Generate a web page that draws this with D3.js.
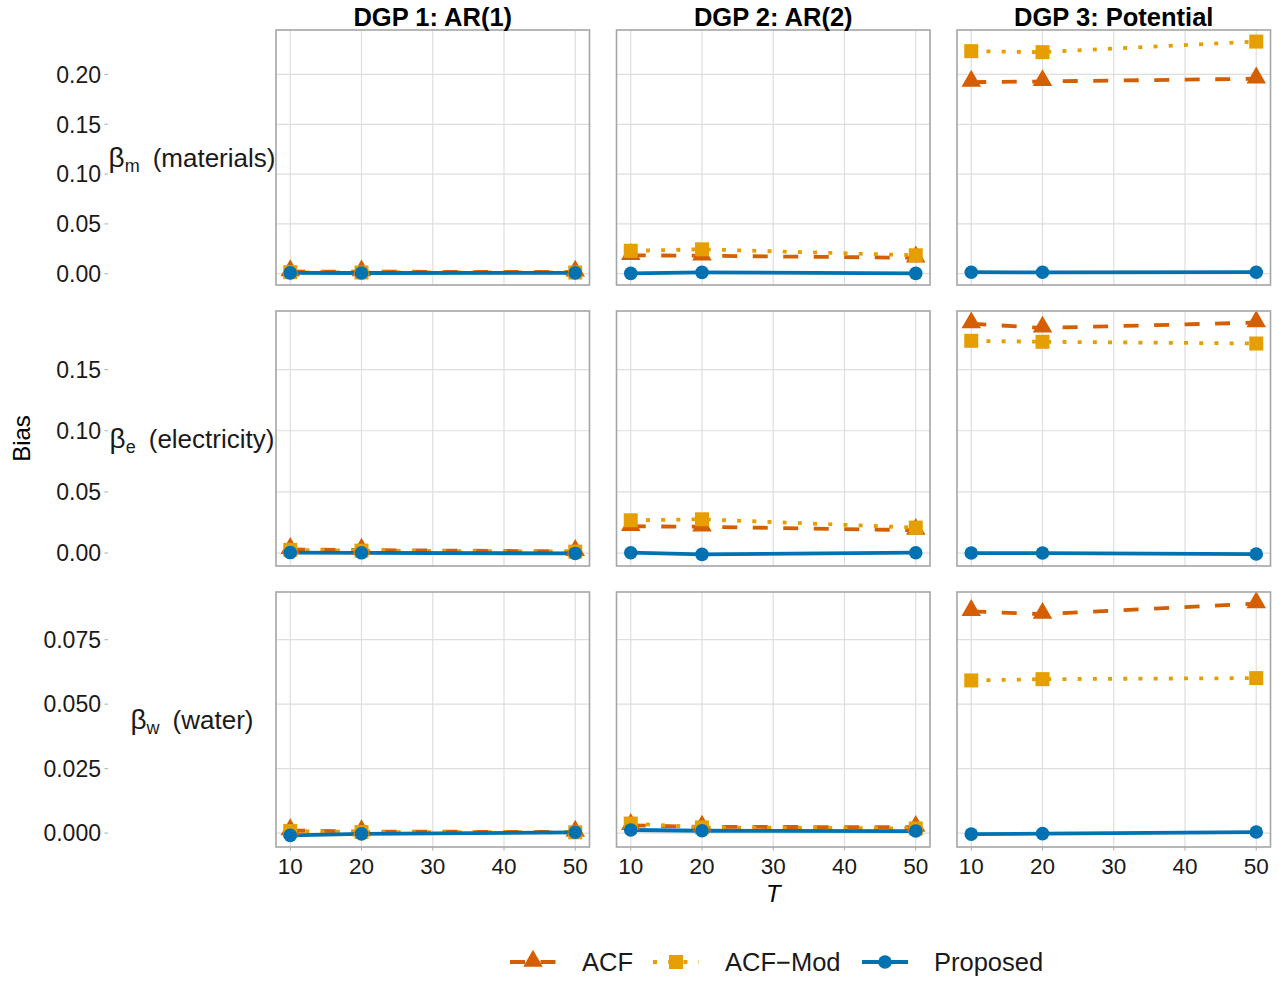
<!DOCTYPE html>
<html lang="en">
<head>
    <meta charset="UTF-8">
    <title>bias by T</title>
    <script type="text/javascript" src="https://d3js.org/d3.v7.min.js"></script>
    <style>
        body { margin: 0; background: #fff; }
        text { font-family: "Liberation Sans", Arial, sans-serif; }
    </style>
</head>
<body>
<svg class="bias"></svg>

<script type="text/javascript">

    const width = 1279;
    const height = 981;

    // data
    const tVals = [10, 20, 50];
    const xTicks = [10, 20, 30, 40, 50];
    const dgpLabels = ["DGP 1: AR(1)", "DGP 2: AR(2)", "DGP 3: Potential"];
    const paramSubs = ["m", "e", "w"];
    const paramNames = ["(materials)", "(electricity)", "(water)"];
    const seriesNames = ["ACF", "ACF\u2212Mod", "Proposed"];

    // one inner array per DGP, values at T = 10, 20, 50
    const acf_m = [[0.0022, 0.0020, 0.0018], [0.0185, 0.0180, 0.0160], [0.1923, 0.1930, 0.1957]];
    const acfMod_m = [[0.0015, 0.0012, 0.0012], [0.0230, 0.0245, 0.0185], [0.2234, 0.2224, 0.2330]];
    const prop_m = [[0.0008, 0.0007, 0.0008], [0.0003, 0.0013, 0.0003], [0.0015, 0.0014, 0.0015]];

    const acf_e = [[0.0030, 0.0024, 0.0014], [0.0219, 0.0215, 0.0187], [0.1875, 0.1840, 0.1884]];
    const acfMod_e = [[0.0026, 0.0020, 0.0012], [0.0268, 0.0276, 0.0208], [0.1735, 0.1727, 0.1713]];
    const prop_e = [[0.0004, 0.0002, -0.0003], [0.0003, -0.0011, 0.0003], [0.0000, 0.0000, -0.0008]];

    const acf_w = [[0.0010, 0.0006, 0.0004], [0.0030, 0.0024, 0.0023], [0.0860, 0.0849, 0.0890]];
    const acfMod_w = [[0.0008, 0.0004, 0.0003], [0.0037, 0.0022, 0.0018], [0.0592, 0.0597, 0.0601]];
    const prop_w = [[-0.0009, -0.0003, 0.0003], [0.0012, 0.0009, 0.0008], [-0.0004, -0.0002, 0.0004]];

    const yTicks_m = [0, 0.05, 0.10, 0.15, 0.20];
    const yTicks_e = [0, 0.05, 0.10, 0.15];
    const yTicks_w = [0, 0.025, 0.05, 0.075];

    const rows = [
        {series: [acf_m, acfMod_m, prop_m], ticks: yTicks_m, fmt: ".2f"},
        {series: [acf_e, acfMod_e, prop_e], ticks: yTicks_e, fmt: ".2f"},
        {series: [acf_w, acfMod_w, prop_w], ticks: yTicks_w, fmt: ".3f"}
    ];

    const colors = ["#D55E00", "#E69F00", "#0072B2"];
    const dashes = ["15,15.5", "4,11.2", null];
    const lineW = 3.8;

    // panel layout
    const colLeft = [276, 616.5, 957];
    const panelW = 313.5;
    const rowTop = [30, 311, 592];
    const panelH = 255;
    const axisX = 108;

    let svg = d3.select(".bias")
        .attr("width", width)
        .attr("height", height);

    let xScales = colLeft.map(l => d3.scaleLinear().domain([8, 52]).range([l, l + panelW]));

    let yScales = rows.map((r, i) => {
        let all = r.series.flat(2);
        let lo = d3.min(all), hi = d3.max(all);
        let pad = (hi - lo) * 0.05;
        return d3.scaleLinear().domain([lo - pad, hi + pad]).range([rowTop[i] + panelH, rowTop[i]]);
    });

    function drawShape(g, k, x, y) {
        if (k === 0) {
            g.append("path")
                .attr("d", d3.symbol().type(d3.symbolTriangle).size(165)())
                .attr("transform", "translate(" + x + "," + (y - 1) + ")")
                .attr("fill", colors[0]);
        } else if (k === 1) {
            g.append("rect")
                .attr("x", x - 7).attr("y", y - 7)
                .attr("width", 14).attr("height", 14)
                .attr("fill", colors[1]);
        } else {
            g.append("circle")
                .attr("cx", x).attr("cy", y).attr("r", 6.8)
                .attr("fill", colors[2]);
        }
    }

    rows.forEach((r, ri) => {
        let y = yScales[ri];

        // y axis on the far left (row labels sit between it and the panels)
        let ya = svg.append("g");
        ya.selectAll("line").data(r.ticks).enter().append("line")
            .attr("x1", axisX - 3.5).attr("x2", axisX)
            .attr("y1", d => y(d)).attr("y2", d => y(d))
            .attr("stroke", "#b3b3b3").attr("stroke-width", 1.1);
        ya.selectAll("text").data(r.ticks).enter().append("text")
            .attr("x", axisX - 7)
            .attr("y", d => y(d))
            .attr("dy", "0.36em")
            .attr("text-anchor", "end")
            .attr("font-size", 23)
            .attr("fill", "#1a1a1a")
            .text(d => d3.format(r.fmt)(d));

        // row label
        let lab = svg.append("text")
            .attr("x", 192)
            .attr("y", rowTop[ri] + panelH / 2)
            .attr("dy", "0.36em")
            .attr("text-anchor", "middle")
            .attr("font-size", 26)
            .attr("fill", "#1a1a1a");
        lab.append("tspan").attr("font-size", 28).text("\u03b2");
        lab.append("tspan").attr("font-size", 18).attr("dy", 5).text(paramSubs[ri]);
        lab.append("tspan").attr("dy", -5).attr("dx", 13).text(paramNames[ri]);

        dgpLabels.forEach((dgp, ci) => {
            let x = xScales[ci];
            let g = svg.append("g");
            let left = colLeft[ci], top = rowTop[ri];

            g.append("rect")
                .attr("x", left).attr("y", top)
                .attr("width", panelW).attr("height", panelH)
                .attr("fill", "#fff");

            g.selectAll(".gx").data(xTicks).enter().append("line")
                .attr("x1", d => x(d)).attr("x2", d => x(d))
                .attr("y1", top).attr("y2", top + panelH)
                .attr("stroke", "#dedede").attr("stroke-width", 1.2);
            g.selectAll(".gy").data(r.ticks).enter().append("line")
                .attr("x1", left).attr("x2", left + panelW)
                .attr("y1", d => y(d)).attr("y2", d => y(d))
                .attr("stroke", "#dedede").attr("stroke-width", 1.2);

            // lines first, then points
            r.series.forEach((s, k) => {
                let line = d3.line().x((d, i) => x(tVals[i])).y(d => y(d));
                g.append("path")
                    .datum(s[ci])
                    .attr("d", line)
                    .attr("fill", "none")
                    .attr("stroke", colors[k])
                    .attr("stroke-width", lineW)
                    .attr("stroke-dasharray", dashes[k]);
            });
            r.series.forEach((s, k) => {
                s[ci].forEach((v, i) => drawShape(g, k, x(tVals[i]), y(v)));
            });

            g.append("rect")
                .attr("x", left).attr("y", top)
                .attr("width", panelW).attr("height", panelH)
                .attr("fill", "none")
                .attr("stroke", "#a6a6a6").attr("stroke-width", 1.6);

            if (ri === 0) {
                svg.append("text")
                    .attr("x", left + panelW / 2)
                    .attr("y", 26)
                    .attr("text-anchor", "middle")
                    .attr("font-size", 25.5)
                    .attr("font-weight", "bold")
                    .attr("fill", "#000")
                    .text(dgp);
            }

            if (ri === rows.length - 1) {
                let bottom = top + panelH;
                g.selectAll(".tx").data(xTicks).enter().append("line")
                    .attr("x1", d => x(d)).attr("x2", d => x(d))
                    .attr("y1", bottom).attr("y2", bottom + 3.5)
                    .attr("stroke", "#b3b3b3").attr("stroke-width", 1.1);
                g.selectAll(".lx").data(xTicks).enter().append("text")
                    .attr("x", d => x(d))
                    .attr("y", bottom + 27)
                    .attr("text-anchor", "middle")
                    .attr("font-size", 22.5)
                    .attr("fill", "#1a1a1a")
                    .text(d => d);
            }
        });
    });

    // axis titles
    svg.append("text")
        .attr("transform", "translate(30," + (rowTop[1] + panelH / 2) + ") rotate(-90)")
        .attr("text-anchor", "middle")
        .attr("font-size", 24)
        .text("Bias");

    svg.append("text")
        .attr("x", colLeft[1] + panelW / 2)
        .attr("y", 902)
        .attr("text-anchor", "middle")
        .attr("font-size", 24)
        .attr("font-style", "italic")
        .text("T");

    // legend
    const legY = 962;
    const keyX = [510, 653, 862];
    const keyW = 46;
    let leg = svg.append("g");
    seriesNames.forEach((name, k) => {
        leg.append("line")
            .attr("x1", keyX[k]).attr("x2", keyX[k] + keyW)
            .attr("y1", legY).attr("y2", legY)
            .attr("stroke", colors[k])
            .attr("stroke-width", lineW)
            .attr("stroke-dasharray", dashes[k]);
        drawShape(leg, k, keyX[k] + keyW / 2, legY);
        leg.append("text")
            .attr("x", keyX[k] + keyW + 26)
            .attr("y", legY)
            .attr("dy", "0.36em")
            .attr("font-size", 25.5)
            .attr("fill", "#1a1a1a")
            .text(name);
    });

</script>

</body>
</html>
